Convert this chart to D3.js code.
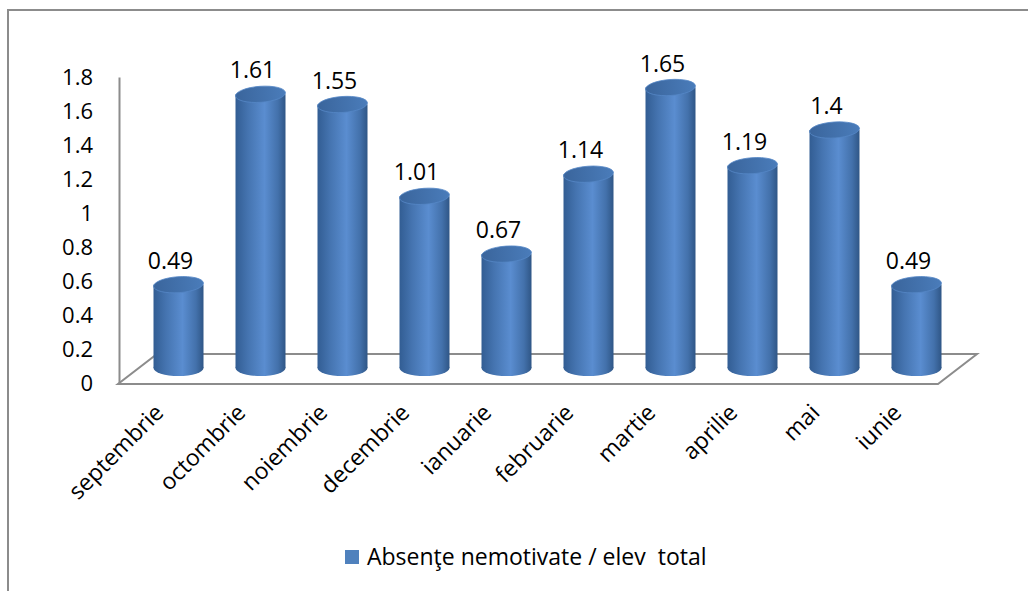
<!DOCTYPE html>
<html>
<head>
<meta charset="utf-8">
<script src="https://cdn.jsdelivr.net/npm/d3@7"></script>
<style>
body{margin:0;background:#fff;}
text{font-family:"Open Sans",sans-serif;fill:#000;}
</style>
</head>
<body>
<script>
var width = 1028;
var height = 591;

var months = ["septembrie","octombrie","noiembrie","decembrie","ianuarie",
"februarie","martie","aprilie","mai","iunie"];
var values = [0.49,1.61,1.55,1.01,0.67,1.14,1.65,1.19,1.4,0.49];
var yTicks = [0,0.2,0.4,0.6,0.8,1,1.2,1.4,1.6,1.8];
var seriesName = "Absenţe nemotivate / elev  total";

// floor geometry (front edge + depth offset)
var floorLeft = 118, floorRight = 938, floorY = 384;
var depthX = 39, depthY = -30;
var rx = 25, ry = 8;
var fontSize = "23px";

var svg = d3.select("body")
.append("svg")
.attr("width",width)
.attr("height",height);

var defs = svg.append("defs");
var g1 = defs.append("linearGradient").attr("id","side")
.attr("x1","0").attr("x2","1").attr("y1","0").attr("y2","0");
g1.append("stop").attr("offset","0%").attr("stop-color","#325d93");
g1.append("stop").attr("offset","25%").attr("stop-color","#4574b0");
g1.append("stop").attr("offset","58%").attr("stop-color","#5a8dd0");
g1.append("stop").attr("offset","85%").attr("stop-color","#4371ab");
g1.append("stop").attr("offset","100%").attr("stop-color","#2f5686");

var g2 = defs.append("linearGradient").attr("id","top")
.attr("x1","0").attr("x2","1").attr("y1","0").attr("y2","0");
g2.append("stop").attr("offset","0%").attr("stop-color","#3a659c");
g2.append("stop").attr("offset","100%").attr("stop-color","#4a7cba");

// chart border (top and left only visible)
svg.append("path")
.attr("d","M8,591V10H1028")
.attr("stroke","#8c8c8c")
.attr("stroke-width",2)
.attr("fill","none");

var xScale = d3.scaleBand()
.domain(months)
.range([floorLeft + depthX/2, floorRight + depthX/2]);

var yScale = d3.scaleLinear()
.domain([0,1.8])
.range([floorY - 1, 77]);

// floor
svg.append("path")
.attr("d","M"+floorLeft+","+floorY+"L"+floorRight+","+floorY+
  "L"+(floorRight+depthX)+","+(floorY+depthY)+"L"+(floorLeft+depthX)+","+(floorY+depthY)+"Z")
.attr("fill","#fff")
.attr("stroke","#8c8c8c")
.attr("stroke-width",2);

var yAxis = d3.axisLeft(yScale)
.tickValues(yTicks)
.tickFormat(function(d){return String(d);})
.tickSizeInner(0)
.tickSizeOuter(0)
.tickPadding(26);

var ax = svg.append("g")
.attr("transform","translate(" + (floorLeft+1) + ",0)")
.call(yAxis);
ax.select(".domain").attr("stroke","#8c8c8c").attr("stroke-width",2);
ax.selectAll("text").attr("font-size","22px").attr("font-family","Open Sans").attr("fill","#000");

// cylinders
var baseY = floorY + depthY/2 - 1;
function cy(v){ return baseY - (yScale(0) - yScale(v)); }

var bars = svg.selectAll(".cyl")
.data(values)
.enter()
.append("g")
.attr("class","cyl");

bars.append("ellipse")
.attr("cx",function(d,i){return xScale(months[i]) + xScale.bandwidth()/2;})
.attr("cy",baseY)
.attr("rx",rx).attr("ry",ry)
.attr("fill","url(#side)");

bars.append("rect")
.attr("x",function(d,i){return xScale(months[i]) + xScale.bandwidth()/2 - rx;})
.attr("y",function(d){return cy(d);})
.attr("width",rx*2)
.attr("height",function(d){return baseY - cy(d);})
.attr("fill","url(#side)");

bars.append("ellipse")
.attr("cx",0).attr("cy",0)
.attr("rx",rx).attr("ry",ry)
.attr("transform",function(d,i){
	return "translate(" + (xScale(months[i]) + xScale.bandwidth()/2) + "," + cy(d) + ") rotate(-4)";
})
.attr("fill","url(#top)")
.attr("stroke","#5587c6")
.attr("stroke-width",0.8);

// data labels
svg.selectAll(".lbl")
.data(values)
.enter()
.append("text")
.attr("class","lbl")
.attr("font-size",fontSize)
.attr("text-anchor","middle")
.attr("x",function(d,i){return xScale(months[i]) + xScale.bandwidth()/2 - 8;})
.attr("y",function(d){return cy(d) - 16;})
.text(function(d){return String(d);});

// category labels
svg.selectAll(".cat")
.data(months)
.enter()
.append("text")
.attr("class","cat")
.attr("font-size",fontSize)
.attr("text-anchor","end")
.attr("transform",function(d){
	var x = xScale(d) + xScale.bandwidth()/2 - depthX/2 + 6;
	return "translate(" + x + ",414) rotate(-45)";
})
.text(function(d){return d;});

// legend
svg.append("rect")
.attr("x",345).attr("y",550)
.attr("width",14).attr("height",14)
.attr("fill","#4f81bd");

svg.append("text")
.attr("x",367).attr("y",565)
.attr("font-size",fontSize)
.style("white-space","pre")
.text(seriesName);
</script>
</body>
</html>
